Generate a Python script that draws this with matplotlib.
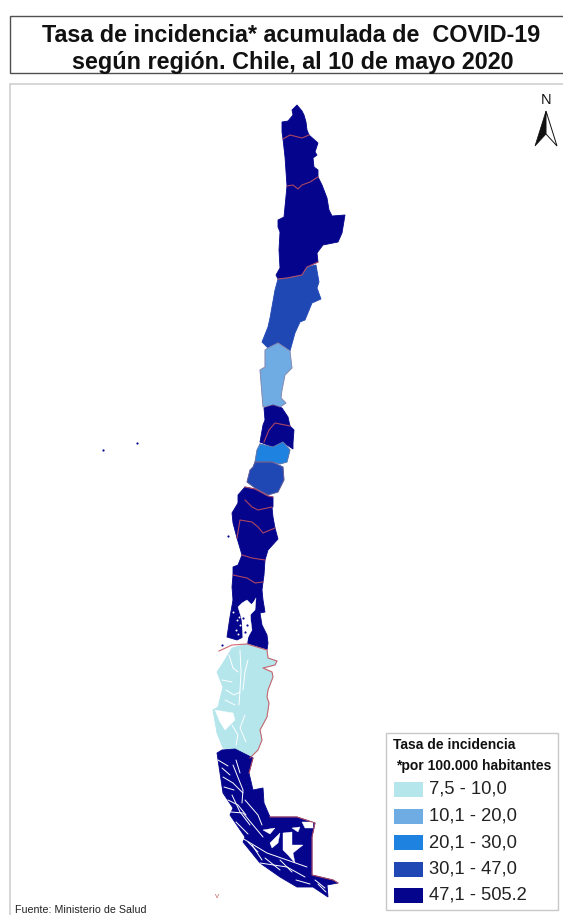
import matplotlib
matplotlib.use('Agg')
import matplotlib.pyplot as plt
from matplotlib.patches import Polygon, Rectangle

plt.rcParams['font.family'] = ['Liberation Sans', 'DejaVu Sans']

# legend classes
class_labels = ['7,5 - 10,0', '10,1 - 20,0', '20,1 - 30,0', '30,1 - 47,0', '47,1 - 505.2']
class_colors = ['#B4E6EC', '#70ACE4', '#1E82E0', '#2048B4', '#04048C']

# region outlines (pixel grid of the map)
arica = [(283,139),(290,135),(298,137),(302,138),(309,135),(307,130),(306,122),(304,115),(302,111),(297,105),
         (292,110),(293,115),(288,121),(282,122),(282,132)]
tarapaca = [(283,139),(290,135),(298,137),(302,138),(309,135),(318,143),(315,152),(317,155),(313,158),(314,167),
            (318,170),(318,177),(310,182),(302,185),(298,189),(293,185),(287,186),(285,157)]
antofagasta = [(287,186),(293,185),(298,189),(302,185),(310,182),(318,177),(322,185),(327,198),(329,210),(332,216),
               (345,215),(342,233),(338,242),(323,245),(317,253),(318,262),(307,267),(302,275),(287,278),(278,279),
               (276,275),(280,268),(279,250),(280,232),(278,227),(278,220),(284,217)]
atacama = [(278,279),(287,278),(302,275),(307,267),(316,265),(319,282),(317,288),(321,299),(312,303),(305,320),
           (300,322),(295,333),(290,351),(278,343),(268,348),(262,342),(268,327),(270,318),(275,290)]
coquimbo = [(278,343),(290,351),(291,360),(292,368),(285,375),(282,390),(281,398),(286,403),(280,407),(273,405),
            (263,407),(260,370),(265,367),(265,350),(268,348)]
valparaiso = [(264,408),(273,405),(282,408),(288,417),(290,426),(275,423),(269,430),(264,442),(260,442),(263,425),(265,420)]
metropolitana = [(264,442),(269,430),(275,423),(290,426),(294,430),(293,443),(293,449),(287,445),(283,442),(273,447),(260,442)]
ohiggins = [(260,444),(273,447),(283,442),(290,450),(287,462),(280,464),(272,462),(255,462),(257,450)]
maule = [(255,462),(272,462),(283,467),(284,480),(278,492),(268,495),(255,488),(247,482),(250,470),(253,467)]
nuble = [(245,487),(255,489),(268,496),(273,497),(273,507),(258,510),(252,507),(245,500),(238,503),(238,495)]
biobio = [(238,503),(245,500),(252,507),(258,510),(272,507),(273,517),(275,528),(263,533),(258,527),(252,522),
          (240,520),(237,538),(233,523),(232,513)]
araucania = [(240,520),(252,522),(258,527),(263,533),(275,528),(278,539),(268,550),(265,560),(252,558),(242,555),(237,538)]
los_rios = [(242,555),(252,558),(265,560),(264,575),(263,582),(255,583),(247,578),(233,575),(233,567),(238,565)]
los_lagos = [(233,575),(247,578),(255,583),(263,582),(262,590),(263,600),(265,612),(260,613),(262,625),(267,635),
             (268,643),(267,650),(257,647),(247,643),(250,633),(251,615),(255,600),(250,605),(245,600),(238,603),
             (233,600),(232,587)]
chiloe = [(233,600),(245,600),(240,608),(242,627),(243,637),(237,640),(227,637),(230,617)]
aysen = [(232,648),(247,644),(267,650),(268,658),(277,661),(275,665),(263,668),(272,672),(273,677),(268,690),
         (267,697),(269,703),(267,717),(260,730),(262,740),(258,750),(250,758),(233,750),(223,748),(217,733),
         (213,710),(218,707),(223,687),(217,672),(223,663)]
magallanes = [(217,753),(222,750),(235,749),(253,758),(249,773),(253,790),(263,788),(264,803),(270,817),(297,817),
              (315,823),(312,837),(312,875),(333,880),(338,883),(327,885),(328,897),(313,887),(297,887),(280,877),
              (260,863),(243,842),(245,837),(230,815),(233,808),(223,793),(220,773)]

regions = [(arica, 4), (tarapaca, 4), (antofagasta, 4), (atacama, 3), (coquimbo, 1), (valparaiso, 4),
           (metropolitana, 4), (ohiggins, 2), (maule, 3), (nuble, 4), (biobio, 4), (araucania, 4),
           (los_rios, 4), (los_lagos, 4), (chiloe, 4), (aysen, 0), (magallanes, 4)]

# red boundaries between regions
borders = [
    [(283,139),(290,135),(298,137),(302,138),(309,135)],
    [(287,186),(293,185),(298,189),(302,185),(310,182),(318,177)],
    [(278,279),(287,278),(302,275),(307,267),(318,262)],
    [(264,442),(269,430),(275,423),(290,426)],
    [(245,487),(255,489),(268,496),(273,497)],
    [(245,500),(252,507),(258,510),(272,507)],
    [(237,538),(240,520),(252,522),(258,527),(263,533),(275,528)],
    [(242,555),(252,558),(265,560)],
    [(233,575),(247,578),(255,583),(263,582)],
    [(219,651),(232,645),(247,644),(267,650),(268,658),(277,661),(275,665),(263,668),(272,672),(273,677),(268,690),
     (267,697),(269,703),(267,717),(260,730),(262,740),(258,750),(250,758)],
    [(253,758),(249,773)],
    [(270,817),(297,817),(315,823),(312,837),(312,875),(333,880),(338,883)],
]
soft_borders = [coquimbo + coquimbo[:1], ohiggins + ohiggins[:1], maule + maule[:1]]

# water: fjords and channels
channels = [
    [(240,650),(241,672),(240,690),(239,705)],
    [(229,655),(233,668),(238,672)],
    [(248,660),(245,672),(243,690)],
    [(226,690),(234,695),(240,692)],
    [(232,725),(238,735),(236,745)],
    [(245,715),(240,728),(246,742)],
    [(222,680),(232,682)],
    [(225,700),(235,705)],
    [(233,765),(237,775),(243,790),(242,803)],
    [(236,760),(240,773)],
    [(223,777),(233,783),(243,793)],
    [(218,760),(228,766)],
    [(222,768),(230,775)],
    [(224,787),(234,790)],
    [(228,800),(238,805),(246,815)],
    [(231,812),(243,813),(263,837)],
    [(242,838),(267,853),(307,867)],
    [(260,863),(287,867),(305,877)],
    [(245,800),(258,815),(262,825)],
    [(232,795),(240,812),(250,825)],
    [(236,822),(248,834)],
    [(252,845),(262,860)],
    [(248,842),(258,852)],
    [(265,858),(280,870)],
    [(280,860),(292,872)],
    [(296,880),(310,884)],
    [(315,880),(325,888)],
    [(318,884),(326,892)],
]
lakes = [
    [(263,830),(275,828),(270,834)],
    [(270,843),(280,833),(278,843),(272,848)],
    [(283,833),(292,832),(292,845),(303,845),(293,853),(295,863),(288,855),(283,850)],
    [(292,828),(300,827),(298,832)],
    [(302,822),(313,822),(313,828),(305,828)],
    [(215,710),(233,713),(235,720),(225,730),(220,722)],
    [(242,603),(247,600),(252,605),(256,598),(255,610),(250,615),(252,630),(248,637),(247,643),(243,640),(242,620),(238,607)],
]
specks_white = [(237,620),(240,625),(236,630),(233,612),(238,634),(239,617)]
specks_dark = [(222,645),(228,536),(103,450),(137,443),(247,625),(243,618),(245,632)]

# legend geometry
legend_y = [789.5, 816, 842.5, 869.5, 895.5]

fig = plt.figure(figsize=(5.63, 9.15), dpi=100)
ax = fig.add_axes([0, 0, 1, 1])
ax.set_xlim(0, 563)
ax.set_ylim(915, 0)
ax.axis('off')

# title box and map frame
ax.add_patch(Rectangle((10, 16), 560, 57, fc='white', ec='#505050', lw=1.0))
ax.add_patch(Rectangle((10, 84), 560, 840, fc='white', ec='#D0D0D0', lw=1.2))
ax.text(291, 35, 'Tasa de incidencia* acumulada de  COVID-19', ha='center', va='center',
        fontsize=16.8, fontweight='bold', color='#111111')
ax.text(293, 62, 'según región. Chile, al 10 de mayo 2020', ha='center', va='center',
        fontsize=16.8, fontweight='bold', color='#111111')

for outline, cls in regions:
    ax.add_patch(Polygon(outline, closed=True, fc=class_colors[cls], ec=class_colors[cls], lw=0.6))

for line in soft_borders:
    ax.plot(*zip(*line), color='#9A6A80', lw=0.6, alpha=0.6)
for line in channels:
    ax.plot(*zip(*line), color='white', lw=0.7, solid_capstyle='round')
for lake in lakes:
    ax.add_patch(Polygon(lake, closed=True, fc='white', ec='white', lw=0.3))
ax.scatter(*zip(*specks_white), s=2, color='white', lw=0)
ax.scatter(*zip(*specks_dark), s=2.5, color=class_colors[4], lw=0)
for line in borders:
    ax.plot(*zip(*line), color='#C8505A', lw=0.8, alpha=0.85)

# north arrow
ax.text(546, 100, 'N', ha='center', va='center', fontsize=10.5, color='#111111')
ax.add_patch(Polygon([(546, 111), (535, 146), (546, 134)], closed=True, fc='#111111', ec='#111111', lw=0.5))
ax.add_patch(Polygon([(546, 111), (557, 146), (546, 134)], closed=True, fc='white', ec='#111111', lw=0.7))

# legend
ax.add_patch(Rectangle((386, 733), 172, 177, fc='white', ec='#C8C8C8', lw=1.0))
ax.text(393, 745, 'Tasa de incidencia', ha='left', va='center', fontsize=10, fontweight='bold', color='#111111')
ax.text(396, 766, '*por 100.000 habitantes', ha='left', va='center', fontsize=10, fontweight='bold', color='#111111')
for label, color, y in zip(class_labels, class_colors, legend_y):
    ax.add_patch(Rectangle((394, y - 7.5), 29, 15, fc=color, ec='none'))
    ax.text(429, y, label, ha='left', va='center', fontsize=13.2, color='#222222')

ax.text(15, 910, 'Fuente: Ministerio de Salud', ha='left', va='center', fontsize=7.7, color='#222222')
ax.text(217, 897, 'v', ha='center', va='center', fontsize=6, color='#C07070')

fig.savefig('out.png', dpi=100)
